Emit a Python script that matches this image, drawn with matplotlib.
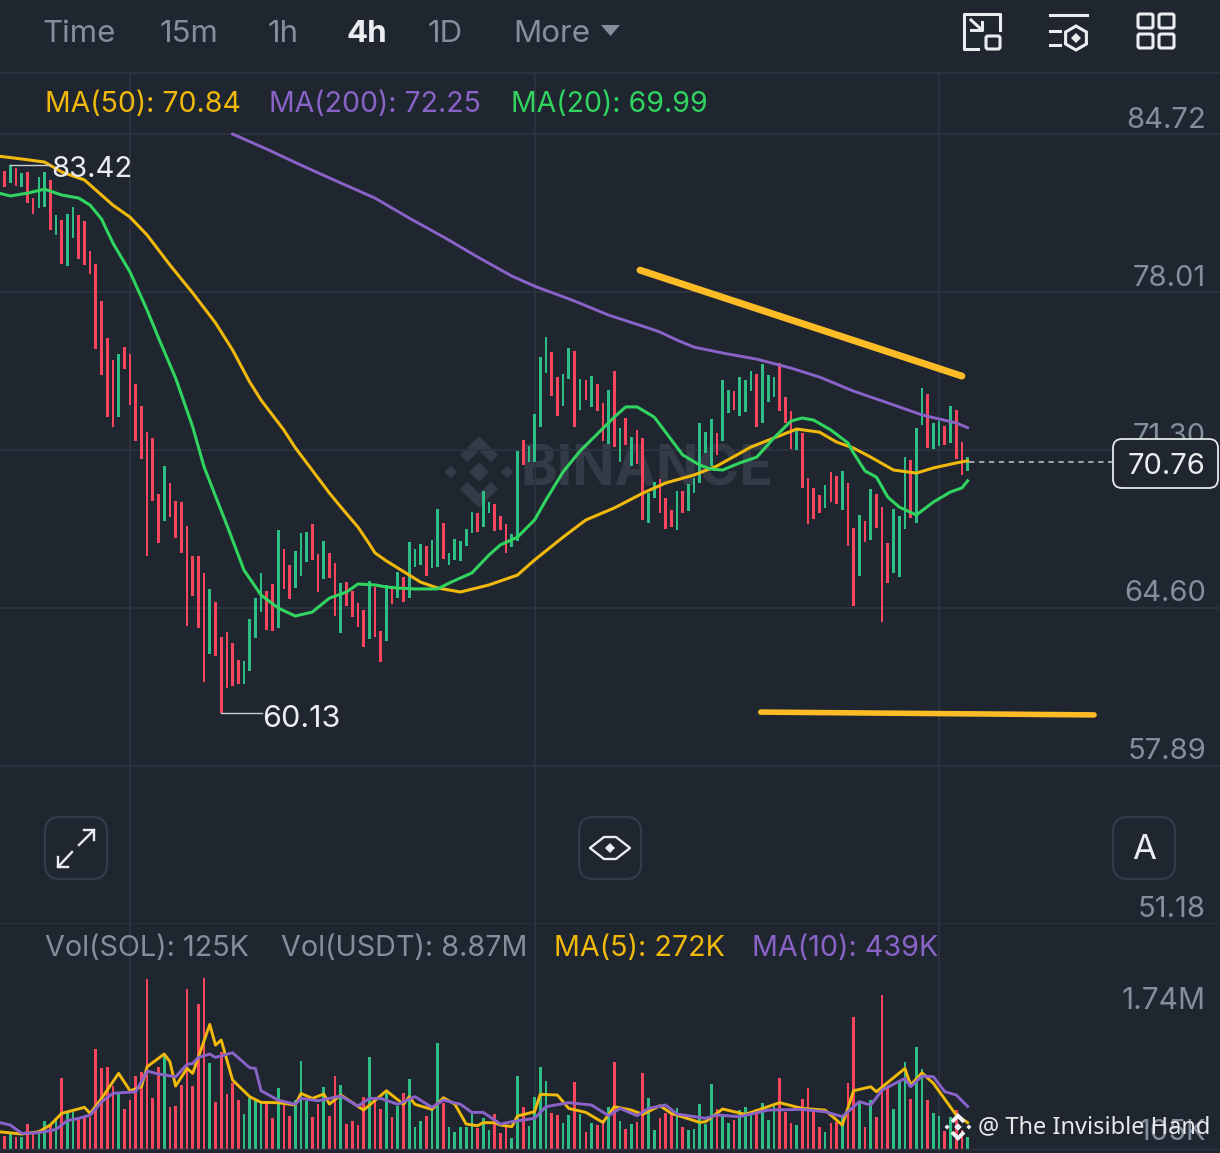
import matplotlib
matplotlib.use('Agg')
import matplotlib.pyplot as plt
import numpy as np
from matplotlib.patches import FancyBboxPatch, Polygon, Rectangle

plt.rcParams['font.family'] = ['Inter', 'Noto Sans', 'DejaVu Sans']

# candles, left to right
candle_open = [82.47, 83.15, 82.64, 83.28, 82.47, 83.11, 82.00, 81.58, 81.62, 82.77,
               80.43, 81.07, 79.11, 80.30, 81.28, 81.02, 79.75, 79.20, 77.63, 76.06,
               75.12, 72.70, 75.67, 75.38, 74.10, 73.17, 72.06, 71.81, 69.43, 68.28,
               69.90, 69.13, 69.09, 68.07, 66.80, 66.80, 66.08, 62.64, 64.84, 63.36,
               63.57, 63.10, 62.38, 61.36, 61.91, 63.32, 64.42, 65.31, 65.61, 63.74,
               67.10, 66.42, 65.44, 65.95, 66.54, 68.16, 66.88, 65.82, 66.93, 66.50,
               63.53, 65.69, 65.31, 64.80, 64.50, 63.27, 65.48, 63.61, 63.19, 65.44,
               65.01, 65.91, 65.01, 66.33, 66.42, 67.22, 66.29, 66.33, 68.20, 66.42,
               66.63, 66.59, 67.22, 67.77, 68.62, 68.03, 68.62, 69.01, 68.50, 68.16,
               67.18, 67.43, 71.72, 70.79, 70.79, 72.28, 74.57, 75.46, 74.40, 73.17,
               74.31, 75.50, 73.00, 74.27, 73.13, 74.10, 73.30, 71.55, 74.65, 70.79,
               72.66, 70.62, 72.15, 71.81, 68.20, 69.26, 70.07, 69.26, 68.75, 67.90,
               69.56, 68.71, 69.47, 69.90, 71.17, 70.62, 72.02, 71.68, 72.87, 73.80,
               72.74, 72.91, 73.80, 74.53, 72.45, 73.34, 73.55, 74.99, 73.55, 72.96,
               71.30, 72.02, 70.11, 69.69, 69.39, 68.84, 70.37, 70.20, 68.75, 69.90,
               67.99, 65.95, 68.28, 67.48, 69.43, 68.88, 67.35, 66.08, 65.91, 67.94,
               70.87, 68.20, 72.36, 73.68, 71.34, 71.47, 72.32, 71.60, 73.00, 71.64,
               70.41]
candle_close = [83.11, 82.47, 83.40, 82.51, 83.06, 81.79, 81.32, 82.89, 83.11, 80.64,
                81.28, 79.20, 81.32, 81.62, 79.41, 79.16, 78.77, 75.59, 74.48, 72.70,
                72.28, 75.38, 74.74, 73.21, 71.68, 70.92, 66.80, 69.13, 67.35, 70.62,
                68.45, 67.56, 66.93, 63.83, 65.10, 63.74, 61.45, 65.40, 62.55, 60.13,
                61.19, 61.28, 61.36, 62.34, 64.12, 65.01, 66.08, 63.66, 63.61, 67.90,
                65.40, 64.97, 67.01, 67.77, 67.82, 66.63, 65.27, 67.43, 65.86, 64.25,
                65.65, 64.67, 64.21, 63.78, 62.93, 65.74, 63.36, 62.30, 65.57, 64.76,
                66.12, 64.84, 67.39, 67.10, 67.31, 65.95, 67.48, 68.79, 66.67, 66.93,
                67.52, 67.43, 67.94, 68.67, 67.82, 69.56, 69.09, 67.86, 67.90, 66.93,
                67.73, 71.26, 70.66, 71.47, 72.83, 75.25, 76.10, 73.59, 72.74, 74.53,
                75.63, 72.28, 74.31, 73.42, 74.44, 72.96, 71.68, 73.85, 71.43, 72.23,
                71.51, 71.85, 70.70, 68.33, 69.47, 69.94, 68.62, 67.94, 68.03, 69.56,
                68.62, 69.86, 70.11, 72.45, 72.06, 72.62, 71.09, 74.27, 73.85, 73.00,
                74.40, 74.27, 74.65, 72.28, 74.95, 74.48, 74.40, 72.96, 72.45, 71.34,
                72.15, 69.69, 68.16, 68.37, 68.62, 69.81, 69.09, 69.01, 70.41, 67.22,
                64.67, 68.54, 67.39, 69.64, 67.99, 63.99, 65.65, 68.79, 68.50, 71.00,
                68.41, 72.23, 73.93, 71.38, 72.45, 72.53, 71.51, 73.17, 70.92, 70.24,
                71.00]

# volume in thousands, same candles
volume = [195, 137, 151, 127, 127, 254, 161, 161, 292, 250, 316, 727, 367, 384, 316, 326, 326, 1026,
          837, 847, 652, 573, 408, 504, 755, 796, 1749, 528, 847, 967, 429, 446, 659, 1643, 652, 1489,
          1766, 888, 487, 1002, 566, 676, 504, 360, 521, 504, 470, 470, 322, 624, 470, 340, 504, 906,
          494, 333, 460, 641, 340, 755, 659, 254, 292, 244, 539, 943, 494, 408, 607, 326, 442, 580,
          720, 230, 292, 340, 418, 1094, 477, 230, 178, 230, 230, 360, 213, 316, 195, 360, 161, 240,
          110, 755, 436, 237, 535, 847, 700, 374, 350, 271, 350, 689, 360, 178, 264, 247, 264, 436,
          892, 288, 206, 254, 281, 779, 525, 196, 316, 367, 360, 418, 230, 196, 209, 460, 257, 665,
          408, 350, 264, 298, 401, 436, 367, 412, 477, 298, 442, 727, 377, 264, 247, 511, 631, 418,
          230, 171, 264, 281, 343, 676, 1355, 470, 230, 504, 333, 1585, 631, 412, 710, 892, 511, 1053,
          820, 504, 367, 340, 189, 333, 401, 196, 127]

# moving averages, read at these candles
ma50_idx = [0, 4, 8, 11, 15, 20, 23, 26, 30, 34, 38, 41, 44, 46, 50, 52, 58, 60, 63, 65, 66, 68, 70, 74,
            77, 81, 86, 91, 94, 99, 103, 108, 113, 117, 122, 126, 132, 136, 140, 144, 147, 150, 153,
            157, 161, 164, 168, 170]
ma50_val = [83.78, 83.66, 83.53, 83.11, 82.77, 81.70, 81.19, 80.43, 79.16, 77.97, 76.70, 75.55, 74.19,
            73.42, 72.15, 71.40, 69.47, 68.88, 68.03, 67.31, 66.93, 66.59, 66.29, 65.69, 65.44, 65.27,
            65.57, 65.99, 66.63, 67.60, 68.33, 68.84, 69.47, 69.90, 70.24, 70.62, 71.43, 71.81, 72.19,
            72.06, 71.64, 71.38, 71.00, 70.45, 70.32, 70.54, 70.75, 70.84]
ma20_idx = [0, 2, 5, 8, 11, 14, 16, 18, 20, 23, 26, 28, 31, 34, 36, 40, 43, 46, 49, 52, 55, 58, 61, 63,
            66, 68, 70, 73, 77, 79, 83, 86, 88, 91, 94, 96, 99, 102, 105, 108, 110, 112, 115, 117, 120,
            123, 125, 127, 130, 133, 136, 139, 141, 143, 146, 149, 150, 152, 154, 156, 158, 161, 164,
            167, 169, 170]
ma20_val = [82.21, 82.09, 82.21, 82.38, 82.13, 82.00, 81.70, 81.11, 80.09, 78.86, 77.24, 76.06, 74.36,
            72.28, 70.58, 68.11, 66.20, 65.14, 64.59, 64.25, 64.42, 65.01, 65.27, 65.61, 65.57, 65.48,
            65.44, 65.40, 65.40, 65.65, 66.08, 66.84, 67.27, 67.60, 68.33, 69.18, 70.37, 71.26, 71.98,
            72.70, 73.13, 73.13, 72.70, 72.06, 71.09, 70.66, 70.49, 70.45, 70.75, 71.00, 71.81, 72.53,
            72.66, 72.57, 72.15, 71.60, 71.17, 70.41, 70.15, 69.30, 68.88, 68.54, 69.09, 69.52, 69.69,
            69.99]
ma200_idx = [41, 47, 53, 60, 66, 72, 78, 84, 90, 94, 101, 107, 114, 116, 119, 122, 127, 133, 139, 144,
             150, 156, 162, 168, 170]
ma200_val = [84.72, 84.08, 83.40, 82.64, 82.00, 81.15, 80.35, 79.50, 78.69, 78.26, 77.63, 77.03, 76.48,
             76.31, 75.97, 75.67, 75.42, 75.16, 74.78, 74.40, 73.80, 73.30, 72.79, 72.45, 72.25]

vol5_idx = [0, 4, 7, 9, 11, 15, 16, 18, 21, 23, 25, 26, 29, 30, 31, 33, 34, 37, 38, 39, 41, 44, 46, 49,
            52, 53, 55, 57, 58, 60, 64, 68, 71, 72, 73, 76, 78, 80, 82, 84, 85, 87, 88, 90, 91, 94, 95,
            98, 100, 103, 106, 108, 111, 113, 116, 118, 123, 124, 127, 131, 137, 141, 145, 148, 150,
            153, 154, 159, 160, 162, 164, 168, 170]
vol5_val = [178, 154, 178, 247, 367, 429, 367, 521, 779, 600, 641, 847, 978, 899, 648, 830, 779, 1283,
            1070, 1122, 710, 539, 480, 477, 453, 573, 521, 566, 463, 556, 401, 600, 460, 539, 460, 408,
            528, 463, 257, 240, 271, 271, 247, 230, 340, 384, 563, 556, 418, 377, 274, 436, 401, 357,
            446, 367, 274, 281, 412, 357, 477, 418, 401, 247, 600, 641, 590, 830, 658, 785, 676, 350,
            272]
vol10_idx = [0, 2, 4, 7, 10, 12, 14, 16, 18, 20, 24, 25, 26, 28, 31, 33, 34, 35, 37, 38, 41, 44, 45, 46,
             49, 52, 53, 56, 60, 63, 65, 67, 70, 73, 76, 78, 81, 83, 85, 88, 90, 94, 96, 100, 104, 107,
             109, 112, 114, 117, 119, 124, 126, 130, 135, 141, 145, 148, 151, 153, 155, 159, 160, 162,
             164, 166, 168, 170]
vol10_val = [274, 247, 161, 168, 202, 292, 316, 350, 487, 573, 590, 693, 803, 772, 744, 871, 881, 943,
             978, 943, 991, 837, 830, 600, 504, 460, 521, 497, 545, 442, 521, 521, 460, 539, 429, 504,
             460, 377, 377, 257, 281, 316, 436, 477, 453, 343, 418, 343, 418, 453, 360, 316, 350, 333,
             401, 408, 384, 333, 487, 453, 607, 727, 641, 751, 744, 590, 556, 439]

price_ticks = [84.72, 78.01, 71.30, 64.60, 57.89, 51.18]
volume_ticks = ['1.74M', '105K']
time_grid_idx = [23, 94, 165]

# hand-drawn lines on the chart
trend_idx = [112.5, 169.0]
trend_val = [78.94, 74.44]
floor_idx = [133.7, 192.2]
floor_val = [60.17, 60.05]

bg = '#1f2630'
grid = '#2d3440'
up = '#2ebd85'
down = '#f6465d'
gray = '#848e9c'
yellow = '#f0b90b'
purple = '#8a63c9'
lime = '#30d45f'
white = '#eaecef'

W, H = 1220, 1153
XLIM = (0.18, 214.3)
fig = plt.figure(figsize=(W / 100, H / 100), dpi=100, facecolor=bg)

def box(top, bottom):
    return [0, 1 - bottom / H, 1, (bottom - top) / H]

def logo(axis, cx, cy, r, color, z=1):
    shapes = [[(0, -.27), (.27, 0), (0, .27), (-.27, 0)],
              [(-.78, -.18), (-.6, 0), (-.78, .18), (-.96, 0)],
              [(.78, -.18), (.96, 0), (.78, .18), (.6, 0)],
              [(0, -1), (.53, -.47), (.33, -.27), (0, -.6), (-.33, -.27), (-.53, -.47)],
              [(0, 1), (.53, .47), (.33, .27), (0, .6), (-.33, .27), (-.53, .47)]]
    for s in shapes:
        axis.add_patch(Polygon([(cx + r * a, cy + r * b) for a, b in s], fc=color, ec='none', zorder=z))

# watermark goes behind the candles
back = fig.add_axes([0, 0, 1, 1], zorder=0)
back.set_xlim(0, W)
back.set_ylim(H, 0)
back.axis('off')
logo(back, 479, 472, 36, '#343b46')
back.text(520, 470, 'BINANCE', color='#343b46', fontsize=40, fontweight='bold', va='center', ha='left')

idx = np.arange(len(candle_open))
is_up = np.array(candle_close) >= np.array(candle_open)
colors = [up if u else down for u in is_up]

# main chart, x axis is the candle number
ax = fig.add_axes(box(74, 924), zorder=1, facecolor='none')
ax.set_xlim(*XLIM)
ax.set_ylim(51.17, 87.27)
for s in ax.spines.values():
    s.set_visible(False)
ax.set_xticks(time_grid_idx)
ax.set_yticks(price_ticks)
ax.tick_params(length=0, labelbottom=False, labelleft=False)
ax.grid(True, color=grid, lw=1.3)
ax.set_axisbelow(True)

ax.bar(idx, np.array(candle_close) - np.array(candle_open), bottom=candle_open,
       width=0.47, color=colors, linewidth=0)
ax.plot(ma200_idx, ma200_val, color=purple, lw=2.1)
ax.plot(ma50_idx, ma50_val, color=yellow, lw=2.2)
ax.plot(ma20_idx, ma20_val, color=lime, lw=2.2)
ax.plot(trend_idx, trend_val, color='#fdbc26', lw=5, solid_capstyle='round')
ax.plot(floor_idx, floor_val, color='#fdbc26', lw=4, solid_capstyle='round')

for t in price_ticks:
    ax.annotate(f'{t:.2f}', xy=(1, t), xycoords=('axes fraction', 'data'), xytext=(-14, 17),
                textcoords='offset pixels', color=gray, fontsize=21, ha='right', va='center_baseline')

# high and low markers
ax.plot([2, 9], [83.42, 83.42], color='#c9ccd1', lw=1)
ax.text(9.2, 83.35, '83.42', color=white, fontsize=21, va='center_baseline')
ax.plot([39, 46.2], [60.13, 60.13], color='#c9ccd1', lw=1)
ax.text(46.1, 60.02, '60.13', color=white, fontsize=22, va='center_baseline')

# last price
ax.plot([170.2, 195.3], [70.79, 70.79], color='#aab0b8', lw=1.3, ls=(0, (3, 2.5)))

# volume panel
vax = fig.add_axes(box(924, H), zorder=1, facecolor='none')
vax.set_xlim(*XLIM)
vax.set_ylim(-41, 2317)
for s in vax.spines.values():
    s.set_visible(False)
vax.set_xticks(time_grid_idx)
vax.set_yticks([])
vax.tick_params(length=0, labelbottom=False)
vax.grid(True, axis='x', color=grid, lw=1.3)
vax.set_axisbelow(True)
vax.axhline(0, color=grid, lw=1)

vax.bar(idx, volume, width=0.47, color=colors, linewidth=0)
vax.plot(vol5_idx, vol5_val, color=yellow, lw=2.1)
vax.plot(vol10_idx, vol10_val, color=purple, lw=2.1)

# everything on top, in pixel positions
ui = fig.add_axes([0, 0, 1, 1], zorder=2, facecolor='none')
ui.set_xlim(0, W)
ui.set_ylim(H, 0)
ui.axis('off')

ui.plot([0, W], [73, 73], color=grid, lw=1.3)

tabs = ['Time', '15m', '1h', '4h', '1D', 'More']
tab_x = [43, 160, 268, 346, 428, 513]
for name, x in zip(tabs, tab_x):
    on = name == '4h'
    ui.text(x, 31, name, color=white if on else gray, fontsize=22.5,
            fontweight='bold' if on else 'normal', va='center_baseline')
ui.add_patch(Polygon([(601, 25), (620, 25), (610.5, 36)], fc=gray, ec='none'))

ma_text = ['MA(50): 70.84', 'MA(200): 72.25', 'MA(20): 69.99']
ma_color = [yellow, purple, lime]
ma_x = [45, 269, 511]
for s, c, x in zip(ma_text, ma_color, ma_x):
    ui.text(x, 101.5, s, color=c, fontsize=20.5, va='center_baseline')

vol_text = ['Vol(SOL): 125K', 'Vol(USDT): 8.87M', 'MA(5): 272K', 'MA(10): 439K']
vol_color = [gray, gray, yellow, purple]
vol_x = [45, 281, 554, 752]
for s, c, x in zip(vol_text, vol_color, vol_x):
    ui.text(x, 945, s, color=c, fontsize=20.7, va='center_baseline')

ui.text(1206, 998, volume_ticks[0], color=gray, fontsize=21.5, ha='right', va='center_baseline')
ui.text(1206, 1130, volume_ticks[1], color=gray, fontsize=21, ha='right', va='center_baseline')

# price box
ui.add_patch(FancyBboxPatch((1119, 445), 93, 37, boxstyle='round,pad=6,rounding_size=9',
                            fc=bg, ec='#e6e8ea', lw=1.3))
ui.text(1166.5, 464, '70.76', color=white, fontsize=21, ha='center', va='center_baseline')

# round buttons
for x in [45, 579, 1113]:
    ui.add_patch(FancyBboxPatch((x + 12, 829), 38, 38, boxstyle='round,pad=12,rounding_size=15',
                                fc=bg, ec='#353c49', lw=1.6))

# expand arrows
ui.plot([79, 94], [845, 830], color=white, lw=1.7)
ui.plot([84, 94, 94], [830, 830, 840], color=white, lw=1.7)
ui.plot([72, 58], [852, 867], color=white, lw=1.7)
ui.plot([58, 58, 68], [857, 867, 867], color=white, lw=1.7)

# eye
ui.add_patch(Polygon([(590, 848), (604, 837), (616, 837), (630, 848), (616, 859), (604, 859)],
                     fc='none', ec=white, lw=1.7, joinstyle='round'))
ui.add_patch(Polygon([(610, 843), (615, 848), (610, 853), (605, 848)], fc=white, ec='none'))
ui.text(1144, 850, 'A', color=white, fontsize=25, ha='center', va='center')

# top right icons
ui.plot([978, 964, 964, 1000, 1000], [49, 49, 14, 14, 30], color=white, lw=2.2, solid_joinstyle='round')
ui.add_patch(FancyBboxPatch((987, 37), 12, 11, boxstyle='round,pad=1,rounding_size=2', fc='none', ec=white, lw=2.2))
ui.plot([971, 982], [20, 30], color=white, lw=2.2)
ui.plot([971, 982, 982], [30, 30, 22], color=white, lw=2.2)

ui.plot([1050, 1087], [15, 15], color=white, lw=2.2)
ui.plot([1050, 1060], [31, 31], color=white, lw=2.2)
ui.plot([1050, 1060], [45, 45], color=white, lw=2.2)
ang = np.deg2rad(np.arange(30, 360, 60))
ui.add_patch(Polygon(np.c_[1076 + 12 * np.cos(ang), 38 + 12 * np.sin(ang)], fc='none', ec=white, lw=2.2))
ui.add_patch(Polygon([(1076, 33), (1081, 38), (1076, 43), (1071, 38)], fc=white, ec='none'))

for x in [1138, 1159]:
    for y in [14, 34]:
        ui.add_patch(FancyBboxPatch((x + 2, y + 2), 11, 10, boxstyle='round,pad=2,rounding_size=2',
                                    fc='none', ec=white, lw=2.2))

# credit
logo(ui, 958, 1127, 14, '#f2f3f4', z=3)
ui.text(978, 1127, '@ The Invisible Hand', color='#e8e9ea', fontsize=17, family='Noto Sans', va='center', zorder=3)

fig.savefig('out.png', dpi=100, facecolor=bg)
